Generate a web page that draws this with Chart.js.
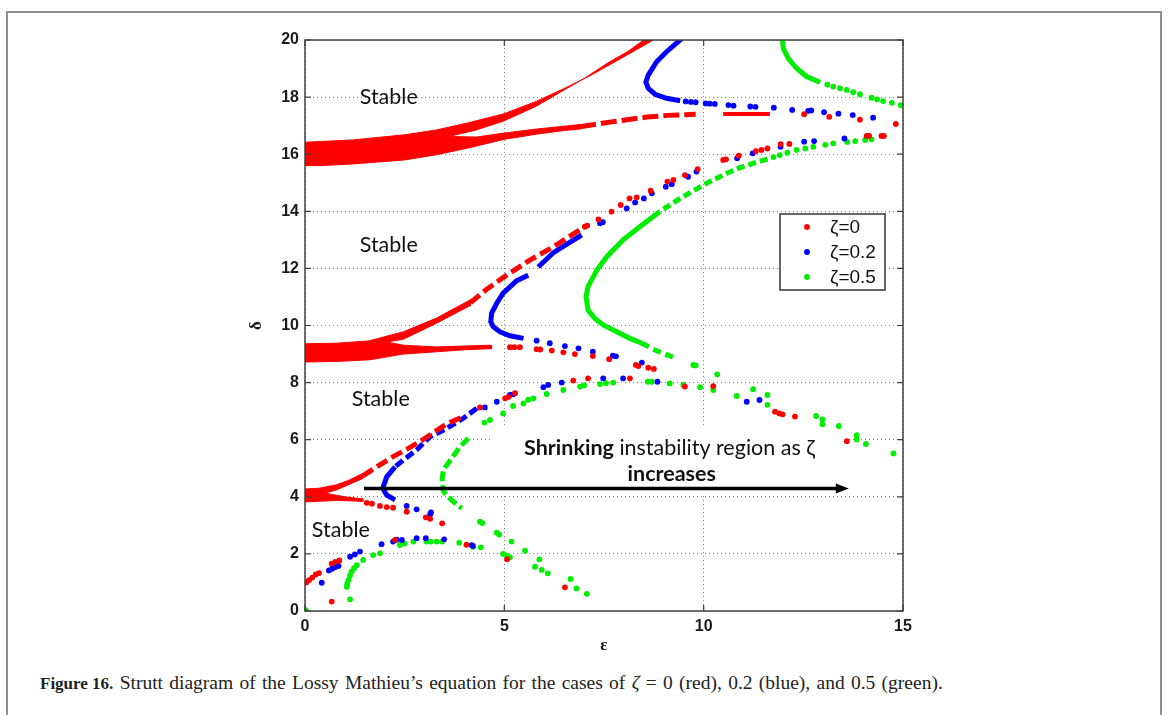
<!DOCTYPE html>
<html>
<head>
<meta charset="utf-8">
<script src="https://cdn.jsdelivr.net/npm/chart.js@4.4.0/dist/chart.umd.min.js"></script>
<style>
  html, body { margin: 0; padding: 0; background: #fff; }
  body { width: 1170px; height: 715px; position: relative; overflow: hidden; }
  #frame { position: absolute; left: 6px; top: 11px; width: 1152px; height: 720px;
           border: 2px solid #8f8f8f; border-bottom: none; }
  #wrap { position: absolute; left: 0; top: 0; width: 1170px; height: 660px; }
  #caption { position: absolute; left: 40px; top: 672px; font-family: "Liberation Serif", serif;
             font-size: 19.5px; word-spacing: 1.4px; color: #222; white-space: nowrap; }
  #caption b { font-size: 17px; word-spacing: 0; }
</style>
</head>
<body>
<div id="frame"></div>
<div id="wrap"><canvas id="strutt"></canvas></div>
<div id="caption"><b>Figure 16.</b> Strutt diagram of the Lossy Mathieu’s equation for the cases of <i>ζ</i> = 0 (red), 0.2 (blue), and 0.5 (green).</div>

<script>
// axis ticks
const epsTicks = [0, 5, 10, 15];
const deltaTicks = [0, 2, 4, 6, 8, 10, 12, 14, 16, 18, 20];
const seriesNames = ['ζ=0', 'ζ=0.2', 'ζ=0.5'];

// ζ = 0 (red) -- [ε, δ]
const redDots = [
  [0.03, 1.0], [0.1, 1.08], [0.18, 1.17], [0.27, 1.28], [0.35, 1.33], [0.67, 1.66], [0.76, 1.72], [0.86, 1.77], [0.67, 0.33],
  [1.55, 3.79], [1.68, 3.76], [1.88, 3.68], [2.05, 3.64], [2.21, 3.62], [2.55, 3.48], [3.03, 3.28], [3.14, 3.23], [3.44, 3.07],
  [2.26, 2.49], [4.05, 2.32], [5.07, 1.81], [6.52, 0.83],
  [4.39, 7.13], [5.02, 7.45], [5.1, 7.5], [5.27, 7.63], [6.73, 8.07], [7.1, 8.15], [8.15, 8.15],
  [5.14, 9.24], [5.25, 9.24], [5.39, 9.24], [5.81, 9.17], [5.9, 9.16], [6.19, 9.12], [6.48, 9.06], [6.77, 9.0],
  [7.22, 8.93], [7.63, 8.82], [8.3, 8.62], [8.36, 8.58], [8.61, 8.52], [8.75, 8.48], [9.53, 7.86], [10.24, 7.88],
  [11.79, 6.98], [11.9, 6.92], [11.98, 6.89], [12.29, 6.81], [13.59, 5.95],
  [7.02, 13.46], [7.08, 13.5], [7.36, 13.72], [7.69, 13.99], [7.92, 14.22], [8.14, 14.45], [8.32, 14.49], [8.67, 14.72],
  [9.09, 15.04], [9.24, 15.1], [9.53, 15.27], [9.85, 15.48], [10.49, 15.8], [10.56, 15.82], [10.88, 15.95], [11.31, 16.11],
  [11.45, 16.15], [11.6, 16.2], [11.93, 16.35], [12.15, 16.36], [14.09, 16.64], [14.15, 16.64], [14.46, 16.64], [14.52, 16.64],
  [12.52, 17.4], [13.15, 17.31], [13.92, 17.21], [14.82, 17.06]
];
// dense red regions (outline of the packed markers)
const redBand16 = [
  [0, 16.42], [1.2, 16.5], [2.5, 16.68], [3.3, 16.85], [4.1, 17.1], [5.0, 17.42], [5.8, 17.85], [6.5, 18.3], [7.15, 18.75],
  [7.73, 19.2], [8.3, 19.65], [8.8, 20.05], [8.55, 20.05], [8.1, 19.6], [7.6, 19.2], [7.0, 18.65], [6.5, 18.25], [5.8, 17.68],
  [5.0, 17.17], [4.3, 16.85], [3.6, 16.62], [4.3, 16.6], [5.0, 16.74], [5.8, 16.88], [6.5, 16.98], [6.9, 17.04],
  [6.9, 16.88], [6.5, 16.83], [5.8, 16.7], [5.0, 16.52], [4.1, 16.22], [3.3, 15.98], [2.5, 15.8], [1.2, 15.66], [0.4, 15.6], [0, 15.6]
];
const redLower16 = [[6.9, 16.96], [7.73, 17.14], [8.57, 17.3], [9.1, 17.36], [9.8, 17.4]];
const redFlat17 = [[10.49, 17.41], [11.66, 17.41]];
const redBand9 = [
  [0, 9.36], [0.8, 9.38], [1.6, 9.46], [2.47, 9.78], [3.3, 10.26], [4.15, 10.9], [4.15, 10.7], [3.3, 10.08], [2.47, 9.52],
  [2.05, 9.42], [2.47, 9.31], [3.3, 9.25], [4.0, 9.28], [4.68, 9.31], [4.68, 9.19], [4.0, 9.15], [3.3, 9.08], [2.47, 9.0],
  [1.63, 8.8], [0.8, 8.74], [0, 8.72]
];
const redUpper9 = [[4.15, 10.8], [4.56, 11.27], [4.97, 11.68], [5.64, 12.29], [6.23, 12.76], [7.06, 13.5]];
const redBand4 = [
  [0, 4.27], [0.35, 4.3], [0.79, 4.42], [1.1, 4.58], [1.45, 4.82], [1.45, 4.64], [1.1, 4.43], [0.79, 4.24], [0.5, 4.13],
  [0.79, 4.05], [1.1, 3.98], [1.45, 3.93], [1.45, 3.84], [1.1, 3.86], [0.79, 3.87], [0.3, 3.84], [0, 3.82]
];
const redUpper4 = [[1.45, 4.73], [1.8, 5.05], [2.21, 5.41], [2.55, 5.66], [2.97, 6.01], [3.3, 6.32], [3.55, 6.55], [3.97, 6.81]];

// ζ = 0.2 (blue)
const blueDots = [
  [9.55, 17.85], [9.68, 17.83], [9.8, 17.82], [10.05, 17.78], [10.15, 17.77], [10.28, 17.76], [10.62, 17.72], [10.75, 17.7],
  [11.17, 17.67], [11.3, 17.66], [11.76, 17.63], [12.22, 17.55], [12.62, 17.52], [12.7, 17.53], [13.02, 17.47], [13.38, 17.42],
  [13.74, 17.37], [14.25, 17.28],
  [7.4, 13.58], [7.47, 13.62], [8.07, 14.1], [8.28, 14.31], [8.5, 14.45], [8.7, 14.63], [9.05, 14.86], [9.2, 14.95],
  [9.61, 15.21], [9.82, 15.39], [10.84, 15.86], [11.23, 16.03], [11.93, 16.26], [12.52, 16.44], [12.77, 16.46], [13.53, 16.55],
  [5.81, 9.47], [6.14, 9.38], [6.52, 9.28], [6.86, 9.2], [7.22, 9.08], [7.72, 8.94], [7.8, 8.92], [8.45, 8.7],
  [4.51, 7.13], [4.81, 7.33], [5.14, 7.57], [5.22, 7.59], [5.98, 7.84], [6.1, 7.92], [6.44, 8.0], [7.48, 8.15], [7.98, 8.15],
  [8.84, 8.03], [11.08, 7.33], [11.4, 7.39],
  [2.55, 3.68], [2.8, 3.56], [3.14, 3.39], [3.16, 3.45],
  [0.42, 0.99], [0.6, 1.42], [0.68, 1.48], [0.76, 1.54], [0.84, 1.58], [1.13, 1.9], [1.25, 1.98], [1.38, 2.08], [1.92, 2.34],
  [2.21, 2.43], [2.3, 2.5], [2.43, 2.49], [2.8, 2.55], [3.03, 2.55], [3.49, 2.51], [4.18, 2.31], [4.21, 2.28]
];
const blueTop = [[9.45, 20.05], [9.07, 19.59], [8.82, 19.24], [8.61, 18.77], [8.55, 18.52], [8.61, 18.31], [8.78, 18.1], [9.07, 17.96], [9.41, 17.87]];
const blueNose10a = [[6.94, 13.17], [6.6, 12.88], [6.23, 12.55], [5.85, 12.05]];
const blueNose10b = [[5.6, 11.76], [5.31, 11.57], [4.97, 11.13], [4.81, 10.78], [4.68, 10.43], [4.66, 10.13], [4.72, 9.96], [4.89, 9.78], [5.14, 9.64], [5.48, 9.55]];
const blueArm4 = [[4.31, 7.1], [3.97, 6.75], [3.51, 6.36], [3.14, 6.11], [2.8, 5.64], [2.47, 5.29], [2.26, 5.05]];
const blueNose4 = [[2.26, 5.05], [2.05, 4.7], [1.95, 4.3], [2.05, 4.06], [2.26, 3.89]];

// ζ = 0.5 (green)
const greenDots = [
  [13.1, 18.44], [13.25, 18.37], [13.42, 18.31], [13.59, 18.25], [13.75, 18.17], [13.92, 18.1], [14.21, 17.98], [14.35, 17.92],
  [14.5, 17.86], [14.72, 17.8], [14.94, 17.72],
  [14.21, 16.52], [14.05, 16.5], [13.8, 16.46], [13.6, 16.43], [13.25, 16.38], [13.05, 16.33], [12.75, 16.26], [12.55, 16.2],
  [12.33, 16.15], [12.1, 16.05], [11.91, 15.97], [11.75, 15.9],
  [9.74, 8.62], [9.8, 8.6], [10.34, 8.29], [10.83, 7.53], [11.24, 7.77], [11.6, 7.57], [11.6, 7.22], [12.82, 6.83], [12.98, 6.71],
  [12.98, 6.54], [13.39, 6.48], [13.84, 6.16], [13.84, 6.01], [14.07, 5.85], [14.76, 5.52],
  [10.24, 7.74], [9.91, 7.84], [9.49, 7.92], [9.15, 7.97], [8.7, 8.03], [8.6, 8.03], [7.73, 8.0], [7.55, 7.98], [7.4, 7.95],
  [7.0, 7.9], [6.9, 7.86], [6.48, 7.74], [6.06, 7.6], [5.73, 7.45], [5.6, 7.4], [5.48, 7.27], [5.22, 7.18], [4.97, 6.92],
  [4.64, 6.69], [4.5, 6.6],
  [4.39, 3.13], [4.45, 3.08], [4.81, 2.74], [4.87, 2.68], [5.18, 2.43], [5.52, 2.11], [4.97, 2.0], [5.05, 1.95], [5.14, 1.88],
  [5.88, 1.81], [5.77, 1.55], [5.94, 1.44], [6.09, 1.32], [6.66, 1.12], [6.81, 0.79], [7.07, 0.6],
  [0.02, 0.03], [1.13, 0.41], [1.05, 0.85], [1.06, 0.95], [1.09, 1.09], [1.13, 1.25], [1.17, 1.38], [1.23, 1.5], [1.3, 1.61],
  [1.46, 1.79], [1.71, 1.96], [1.88, 2.02], [2.38, 2.31], [2.5, 2.36], [2.72, 2.43], [3.05, 2.43], [3.15, 2.43], [3.3, 2.43],
  [3.44, 2.43], [3.87, 2.39], [4.22, 2.25], [4.41, 2.23]
];
const greenTop = [[11.97, 20.05], [12.0, 19.71], [12.12, 19.36], [12.33, 19.01], [12.58, 18.72], [12.92, 18.52]];
const greenArm11 = [[11.6, 15.83], [11.24, 15.68], [10.91, 15.53], [10.58, 15.33], [10.24, 15.1], [9.99, 14.92], [9.78, 14.75], [9.41, 14.45], [8.9, 13.99]];
const greenNose11 = [[8.9, 13.99], [8.4, 13.46], [7.98, 13.0], [7.57, 12.41], [7.32, 11.94], [7.1, 11.36], [7.05, 11.01], [7.1, 10.54], [7.27, 10.25], [7.48, 10.02], [7.82, 9.78], [8.15, 9.55], [8.45, 9.38]];
const greenLower11 = [[8.45, 9.38], [8.78, 9.14], [9.07, 8.97], [9.26, 8.89]];
const greenNose4 = [[4.1, 6.05], [3.89, 5.76], [3.68, 5.35], [3.47, 4.94], [3.44, 4.6], [3.45, 4.47], [3.47, 4.2], [3.55, 4.06], [3.72, 3.83], [3.93, 3.6]];

const RED = '#ff0000', BLUE = '#0000ff', GREEN = '#00ee00';
const xy = arr => arr.map(([x, y]) => ({ x, y }));

function dots(label, arr, color) {
  return { label, data: xy(arr), backgroundColor: color, borderWidth: 0, pointRadius: 2.9, showLine: false };
}
function curve(arr, color, width, dash) {
  return { label: '', data: xy(arr), showLine: true, borderColor: color, borderWidth: width,
           borderDash: dash || [], pointRadius: 0, fill: false, tension: 0 };
}
function band(arr, color) {
  return { label: '', data: xy(arr), showLine: true, borderColor: color, borderWidth: 1,
           backgroundColor: color, pointRadius: 0, fill: 'shape', tension: 0 };
}

const datasets = [
  dots(seriesNames[0], redDots, RED),
  dots(seriesNames[1], blueDots, BLUE),
  dots(seriesNames[2], greenDots, GREEN),
  band(redBand16, RED), band(redBand9, RED), band(redBand4, RED),
  curve(redLower16, RED, 5, [16, 5]), curve(redFlat17, RED, 4),
  curve(redUpper9, RED, 5, [12, 5]), curve(redUpper4, RED, 5, [12, 5]),
  curve(blueTop, BLUE, 5), curve(blueNose10a, BLUE, 5), curve(blueNose10b, BLUE, 5),
  curve(blueArm4, BLUE, 5, [9, 4]), curve(blueNose4, BLUE, 5),
  curve(greenTop, GREEN, 5), curve(greenArm11, GREEN, 5, [8, 4]), curve(greenNose11, GREEN, 5),
  curve(greenLower11, GREEN, 5, [8, 5]), curve(greenNose4, GREEN, 5, [10, 4])
];

const TXT = '21.5px Lato', TXTB = 'bold 21.5px Lato';

const decor = {
  id: 'decor',
  beforeDatasetsDraw(chart) {
    const { ctx, scales: { x, y } } = chart;
    // white box behind the annotation text
    const l = x.getPixelForValue(4.69), r = x.getPixelForValue(13.49);
    const t = y.getPixelForValue(6.44), b = y.getPixelForValue(4.1);
    ctx.save();
    ctx.fillStyle = '#fff';
    ctx.fillRect(l, t, r - l, b - t);
    ctx.restore();
  },
  afterDatasetsDraw(chart) {
    const { ctx, chartArea: ca, scales: { x, y } } = chart;
    ctx.save();

    // box + inward ticks
    ctx.strokeStyle = '#404040';
    ctx.lineWidth = 1.5;
    ctx.strokeRect(ca.left, ca.top, ca.right - ca.left, ca.bottom - ca.top);
    ctx.lineWidth = 1.2;
    ctx.beginPath();
    deltaTicks.forEach(v => {
      const py = y.getPixelForValue(v);
      ctx.moveTo(ca.left, py); ctx.lineTo(ca.left + 6, py);
      ctx.moveTo(ca.right, py); ctx.lineTo(ca.right - 6, py);
    });
    epsTicks.forEach(v => {
      const px = x.getPixelForValue(v);
      ctx.moveTo(px, ca.bottom); ctx.lineTo(px, ca.bottom - 6);
      ctx.moveTo(px, ca.top); ctx.lineTo(px, ca.top + 6);
    });
    ctx.stroke();

    // region labels
    ctx.fillStyle = '#111';
    ctx.textBaseline = 'middle';
    ctx.textAlign = 'center';
    ctx.font = TXT;
    [[2.1, 18.0], [2.1, 12.82], [1.9, 7.43], [0.9, 2.84]].forEach(([e, d]) => {
      ctx.fillText('Stable', x.getPixelForValue(e), y.getPixelForValue(d));
    });

    // annotation
    const cx = x.getPixelForValue(9.14);
    ctx.textAlign = 'left';
    ctx.font = TXTB;
    const w1 = ctx.measureText('Shrinking').width;
    ctx.font = TXT;
    const rest = ' instability region as ζ';
    const w2 = ctx.measureText(rest).width;
    const x0 = cx - (w1 + w2) / 2;
    const yl1 = y.getPixelForValue(5.71);
    ctx.font = TXTB;
    ctx.fillText('Shrinking', x0, yl1);
    ctx.font = TXT;
    ctx.fillText(rest, x0 + w1, yl1);
    ctx.textAlign = 'center';
    ctx.font = TXTB;
    ctx.fillText('increases', x.getPixelForValue(9.2), y.getPixelForValue(4.8));

    // arrow
    const ay = y.getPixelForValue(4.29);
    const ax0 = x.getPixelForValue(1.48), ax1 = x.getPixelForValue(13.64);
    ctx.strokeStyle = '#000';
    ctx.lineWidth = 3.5;
    ctx.beginPath();
    ctx.moveTo(ax0, ay); ctx.lineTo(ax1 - 10, ay);
    ctx.stroke();
    ctx.fillStyle = '#000';
    ctx.beginPath();
    ctx.moveTo(ax1, ay); ctx.lineTo(ax1 - 13, ay - 5); ctx.lineTo(ax1 - 13, ay + 5);
    ctx.closePath(); ctx.fill();

    // legend
    const lx = 780, ly = 214, lw = 105, lh = 76;
    ctx.fillStyle = '#fff';
    ctx.fillRect(lx, ly, lw, lh);
    ctx.strokeStyle = '#333';
    ctx.lineWidth = 1.5;
    ctx.strokeRect(lx, ly, lw, lh);
    ctx.font = '19px "Liberation Sans"';
    ctx.textAlign = 'left';
    chart.data.datasets.slice(0, 3).forEach((ds, i) => {
      const ry = ly + 13 + i * 25;
      ctx.fillStyle = ds.backgroundColor;
      ctx.beginPath(); ctx.arc(lx + 27, ry, 2.9, 0, Math.PI * 2); ctx.fill();
      ctx.fillStyle = '#111';
      ctx.fillText(ds.label, lx + 50, ry + 1);
    });
    ctx.restore();
  }
};

const tickFont = { family: 'Liberation Sans', size: 16, weight: 'bold' };
const titleFont = { family: 'Liberation Serif', size: 17, weight: 'bold' };

new Chart(document.getElementById('strutt'), {
  type: 'scatter',
  data: { datasets },
  options: {
    responsive: true,
    maintainAspectRatio: false,
    animation: false,
    devicePixelRatio: 1,
    events: [],
    layout: { padding: { left: 240, right: 267, top: 40, bottom: 4 } },
    plugins: { legend: { display: false }, tooltip: { enabled: false } },
    scales: {
      x: {
        type: 'linear', min: 0, max: 15,
        afterBuildTicks: s => { s.ticks = epsTicks.map(v => ({ value: v })); },
        afterFit: s => { s.height = 45; s.paddingLeft = 0; s.paddingRight = 0; },
        grid: { color: '#808080', lineWidth: 1, drawTicks: false },
        border: { display: false, dash: [1, 3] },
        ticks: { padding: 6, color: '#1a1a1a', font: tickFont },
        title: { display: true, text: 'ε', color: '#1a1a1a', padding: { top: 0, bottom: 0 }, font: titleFont }
      },
      y: {
        type: 'linear', min: 0, max: 20,
        afterBuildTicks: s => { s.ticks = deltaTicks.map(v => ({ value: v })); },
        afterFit: s => { s.width = 65; s.paddingTop = 0; s.paddingBottom = 0; },
        grid: { color: '#808080', lineWidth: 1, drawTicks: false },
        border: { display: false, dash: [1, 3] },
        ticks: { padding: 6, color: '#1a1a1a', font: tickFont },
        title: { display: true, text: 'δ', color: '#1a1a1a', padding: { top: 6, bottom: 0 }, font: titleFont }
      }
    }
  },
  plugins: [decor]
});
</script>
</body>
</html>
